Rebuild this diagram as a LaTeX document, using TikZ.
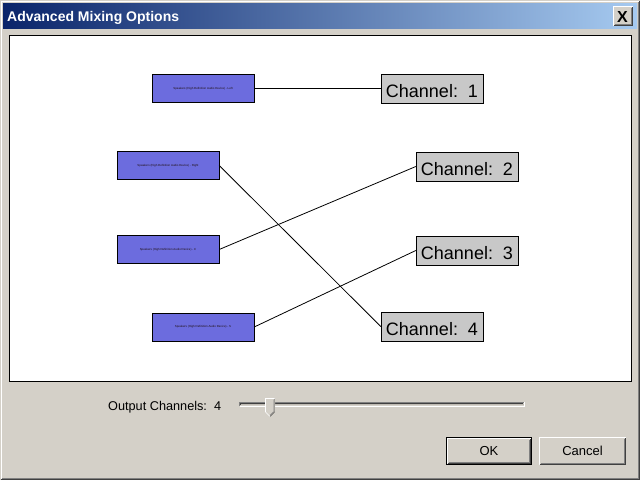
\documentclass[tikz,border=0pt]{standalone}
\usepackage{fontspec}
\setmainfont{Liberation Sans}
\definecolor{winbg}{HTML}{D4D0C8}
\definecolor{bluefill}{HTML}{6C6CDE}
\definecolor{chanfill}{HTML}{C8C8C8}
\definecolor{tbdark}{HTML}{0A246A}
\definecolor{tblight}{HTML}{A6CAF0}
\definecolor{shadow}{HTML}{808080}
\definecolor{darkshadow}{HTML}{404040}
\definecolor{tinytext}{HTML}{201010}
\tikzset{
  srcbox/.style={draw=black, fill=bluefill, minimum width=102pt, minimum height=28pt, inner sep=0pt,
    font=\fontsize{2.9}{3}\selectfont, text=tinytext},
  chanbox/.style={draw=black, fill=chanfill, minimum width=102pt, minimum height=29pt, inner sep=0pt,
    font=\fontsize{18}{20}\selectfont, text height=17pt, text depth=0pt},
  link/.style={draw=black, line width=0.8pt},
  btntext/.style={font=\fontsize{13}{15}\selectfont, inner sep=0pt},
}
\begin{document}
\begin{tikzpicture}[x=1pt,y=-1pt]
\useasboundingbox (0,0) rectangle (640,480);
% window
\fill[winbg] (0,0) rectangle (640,480);
\draw[white] (1.5,478.5) -- (1.5,1.5) -- (638.5,1.5);
\draw[shadow] (1.5,478.5) -- (638.5,478.5) -- (638.5,1.5);
\draw[darkshadow] (0.5,479.5) -- (639.5,479.5) -- (639.5,0.5);
% title bar
\shade[left color=tbdark, right color=tblight] (3,3) rectangle (637,28);
\node[anchor=base west, text=white, font=\bfseries\fontsize{14}{16}\selectfont, inner sep=0pt] (title) at (7,21) {Advanced Mixing Options};
% close button
\fill[winbg] (613,6) rectangle (633,26);
\draw[white] (613.5,25.5) -- (613.5,6.5) -- (632.5,6.5);
\draw[darkshadow] (613.5,25.5) -- (632.5,25.5) -- (632.5,6.5);
\draw[shadow] (614.5,24.5) -- (631.5,24.5) -- (631.5,7.5);
\node[font=\bfseries\fontsize{16}{16}\selectfont, inner sep=0pt] (close) at (622.5,16.5) {X};
% canvas
\draw[fill=white, line width=1pt] (9.5,35.5) rectangle (631.5,381.5);
% source boxes
\node[srcbox] (b1) at (203,88.5) {Speakers (High Definition Audio Device) - Left};
\node[srcbox] (b2) at (168,165.5) {Speakers (High Definition Audio Device) - Right};
\node[srcbox] (b3) at (168,249.5) {Speakers (High Definition Audio Device) - C};
\node[srcbox] (b4) at (203,327) {Speakers (High Definition Audio Device) - S};
% channel boxes
\node[chanbox] (c1) at (432,88.5) {Channel:\ \ 1};
\node[chanbox] (c2) at (467,166.5) {Channel:\ \ 2};
\node[chanbox] (c3) at (467,250.5) {Channel:\ \ 3};
\node[chanbox] (c4) at (432,326.5) {Channel:\ \ 4};
% links
\draw[link] (b1.east) -- (c1.west);
\draw[link] (b2.east) -- (c4.west);
\draw[link] (b3.east) -- (c2.west);
\draw[link] (b4.east) -- (c3.west);
% output channels slider
\node[anchor=base west, font=\fontsize{12.7}{15}\selectfont, inner sep=0pt] (outlbl) at (108,410.5) {Output Channels:\ \ 4};
\draw[shadow] (239.5,406) -- (239.5,402.5) -- (523.5,402.5);
\draw[darkshadow] (240.5,405) -- (240.5,403.5) -- (522.5,403.5);
\draw[white] (239.5,406.5) -- (524.5,406.5) -- (524.5,402);
\draw[winbg!90!black] (240.5,404.5) -- (523.5,404.5);
\fill[winbg] (265,398) -- (275,398) -- (275,412) -- (270,417) -- (265,412) -- cycle;
\draw[white] (265.5,412) -- (265.5,398.5) -- (274.5,398.5);
\draw[darkshadow] (274.5,398.5) -- (274.5,412) -- (270,416.5);
\draw[shadow] (273.5,399.5) -- (273.5,411.6) -- (270,415.2);
\draw[white] (265.5,412) -- (270,416.5);
% OK button (default)
\fill[winbg] (446,437) rectangle (532,465);
\draw[black] (446.5,437.5) rectangle (531.5,464.5);
\draw[white] (447.5,463.5) -- (447.5,438.5) -- (530.5,438.5);
\draw[darkshadow] (447.5,463.5) -- (530.5,463.5) -- (530.5,438.5);
\draw[shadow] (448.5,462.5) -- (529.5,462.5) -- (529.5,439.5);
\node[btntext] (ok) at (489,451) {OK};
% Cancel button
\fill[winbg] (539,437) rectangle (626,465);
\draw[white] (539.5,464.5) -- (539.5,437.5) -- (625.5,437.5);
\draw[darkshadow] (539.5,464.5) -- (625.5,464.5) -- (625.5,437.5);
\draw[shadow] (540.5,463.5) -- (624.5,463.5) -- (624.5,438.5);
\node[btntext] (cancel) at (582.5,451) {Cancel};
\end{tikzpicture}
\end{document}
